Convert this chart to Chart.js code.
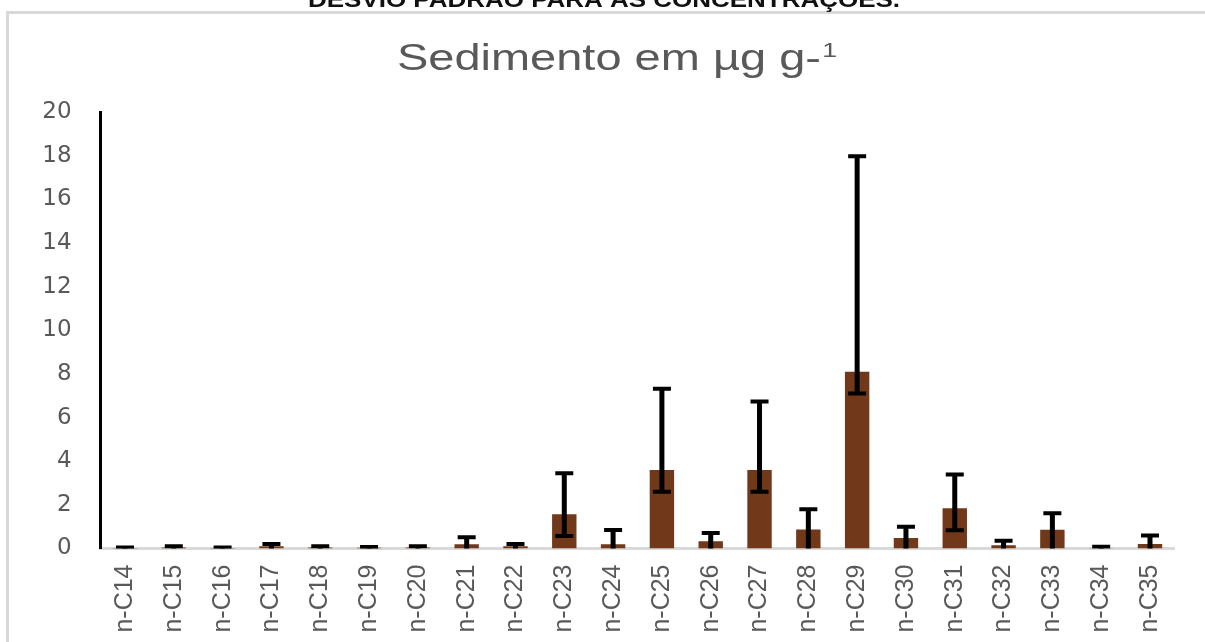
<!DOCTYPE html>
<html>
<head>
<meta charset="utf-8">
<script src="https://cdn.jsdelivr.net/npm/chart.js@4.4.1/dist/chart.umd.min.js"></script>
<style>
  html, body { margin: 0; padding: 0; background: #ffffff; overflow: hidden; }
  canvas { display: block; }
</style>
</head>
<body>
<canvas id="c" width="1205" height="642"></canvas>
<script>
// ---- data ----
const categories = ["n-C14","n-C15","n-C16","n-C17","n-C18","n-C19","n-C20","n-C21","n-C22","n-C23","n-C24",
                    "n-C25","n-C26","n-C27","n-C28","n-C29","n-C30","n-C31","n-C32","n-C33","n-C34","n-C35"];
const meanValues = [0.02, 0.05, 0.02, 0.10, 0.05, 0.03, 0.05, 0.20, 0.10, 1.57, 0.20,
                    3.60, 0.33, 3.60, 0.87, 8.10, 0.48, 1.84, 0.15, 0.86, 0.01, 0.21];
const errPlus    = [0.03, 0.05, 0.03, 0.11, 0.05, 0.04, 0.05, 0.31, 0.11, 1.88, 0.65,
                    3.72, 0.38, 3.14, 0.93, 9.87, 0.52, 1.55, 0.21, 0.76, 0.07, 0.39];
const errMinus   = [1.0, 1.0, 1.0, 1.0, 1.0, 1.0, 1.0, 1.0, 1.0, 1.0, 1.0,
                    1.0, 1.0, 1.0, 1.0, 1.0, 1.0, 1.0, 1.0, 1.0, 1.0, 1.0];
const yTicks = [0, 2, 4, 6, 8, 10, 12, 14, 16, 18, 20];
const titleMain = "Sedimento em µg g-";
const titleSup = "1";
const headerText = "DESVIO PADRÃO PARA AS CONCENTRAÇÕES.";

const framePlugin = {
  id: 'frame',
  beforeDraw(chart) {
    const ctx = chart.ctx;
    ctx.save();
    ctx.fillStyle = '#d9d9d9';
    ctx.fillRect(6, 11, 3, chart.height - 11);
    ctx.fillRect(6, 11, chart.width - 6, 3);
    ctx.restore();
  }
};

const errorBarPlugin = {
  id: 'errorBars',
  afterDatasetsDraw(chart) {
    const ctx = chart.ctx;
    const meta = chart.getDatasetMeta(0);
    const ys = chart.scales.y;
    const area = chart.chartArea;
    ctx.save();
    ctx.beginPath();
    ctx.rect(area.left, area.top - 10, area.right - area.left, area.bottom - area.top + 10);
    ctx.clip();
    ctx.strokeStyle = '#000000';
    ctx.lineCap = 'butt';
    meta.data.forEach((bar, i) => {
      const x = bar.x;
      const v = meanValues[i];
      const yt = ys.getPixelForValue(v + errPlus[i]);
      const yb = ys.getPixelForValue(v - errMinus[i]);
      const half = 9;
      ctx.lineWidth = 5;
      ctx.beginPath();
      ctx.moveTo(x, yt); ctx.lineTo(x, yb);
      ctx.stroke();
      ctx.lineWidth = 4;
      ctx.beginPath();
      ctx.moveTo(x - half, yt); ctx.lineTo(x + half, yt);
      ctx.moveTo(x - half, yb); ctx.lineTo(x + half, yb);
      ctx.stroke();
    });
    ctx.restore();
  }
};

const textPlugin = {
  id: 'titleText',
  afterDraw(chart) {
    const ctx = chart.ctx;
    ctx.save();
    // cut-off header at the very top
    ctx.font = 'bold 22px "Liberation Sans", Arial, sans-serif';
    ctx.fillStyle = '#111111';
    ctx.textBaseline = 'alphabetic';
    ctx.textAlign = 'left';
    const hw = ctx.measureText(headerText).width;
    const targetHW = 592;
    ctx.save();
    ctx.translate(308, 7);
    ctx.scale(targetHW / hw, 1);
    ctx.fillText(headerText, 0, 0);
    ctx.restore();

    // chart title with superscript
    const sx = 1.27;
    ctx.font = '37px "Liberation Sans", Arial, sans-serif';
    const wMain = ctx.measureText(titleMain).width;
    ctx.font = '21px "Liberation Sans", Arial, sans-serif';
    const wSup = ctx.measureText(titleSup).width;
    const total = (wMain + wSup + 1) * sx;
    const left = 617 - total / 2;
    ctx.fillStyle = '#595959';
    ctx.save();
    ctx.translate(left, 70);
    ctx.scale(sx, 1);
    ctx.font = '37px "Liberation Sans", Arial, sans-serif';
    ctx.fillText(titleMain, 0, 0);
    ctx.font = '21px "Liberation Sans", Arial, sans-serif';
    ctx.fillText(titleSup, wMain + 1, -13);
    ctx.restore();
    ctx.restore();
  }
};

new Chart(document.getElementById('c'), {
  type: 'bar',
  data: {
    labels: categories,
    datasets: [{
      data: meanValues,
      backgroundColor: '#72381a',
      borderWidth: 0,
      barPercentage: 0.5,
      categoryPercentage: 1.0
    }]
  },
  options: {
    responsive: false,
    animation: false,
    devicePixelRatio: 1,
    layout: { padding: { top: 112, right: 30.6, left: 0, bottom: 0 } },
    plugins: { legend: { display: false }, title: { display: false }, tooltip: { enabled: false } },
    scales: {
      x: {
        grid: { display: false, drawTicks: false },
        border: { display: true, color: '#d9d9d9', width: 3 },
        ticks: {
          autoSkip: false,
          minRotation: 90,
          maxRotation: 90,
          padding: 16,
          color: '#595959',
          font: { family: '"Liberation Sans", Arial, sans-serif', size: 25 }
        },
        afterFit(scale) { scale.height = 93.5; }
      },
      y: {
        min: 0,
        max: 20,
        afterBuildTicks(scale) { scale.ticks = yTicks.map(v => ({ value: v })); },
        grid: { display: false, drawTicks: false },
        border: { display: true, color: '#000000', width: 3 },
        ticks: {
          padding: 29,
          color: '#595959',
          font: { family: '"DejaVu Sans", Verdana, sans-serif', size: 23 }
        },
        afterFit(scale) { scale.width = 100.6; }
      }
    }
  },
  plugins: [framePlugin, errorBarPlugin, textPlugin]
});
</script>
</body>
</html>
